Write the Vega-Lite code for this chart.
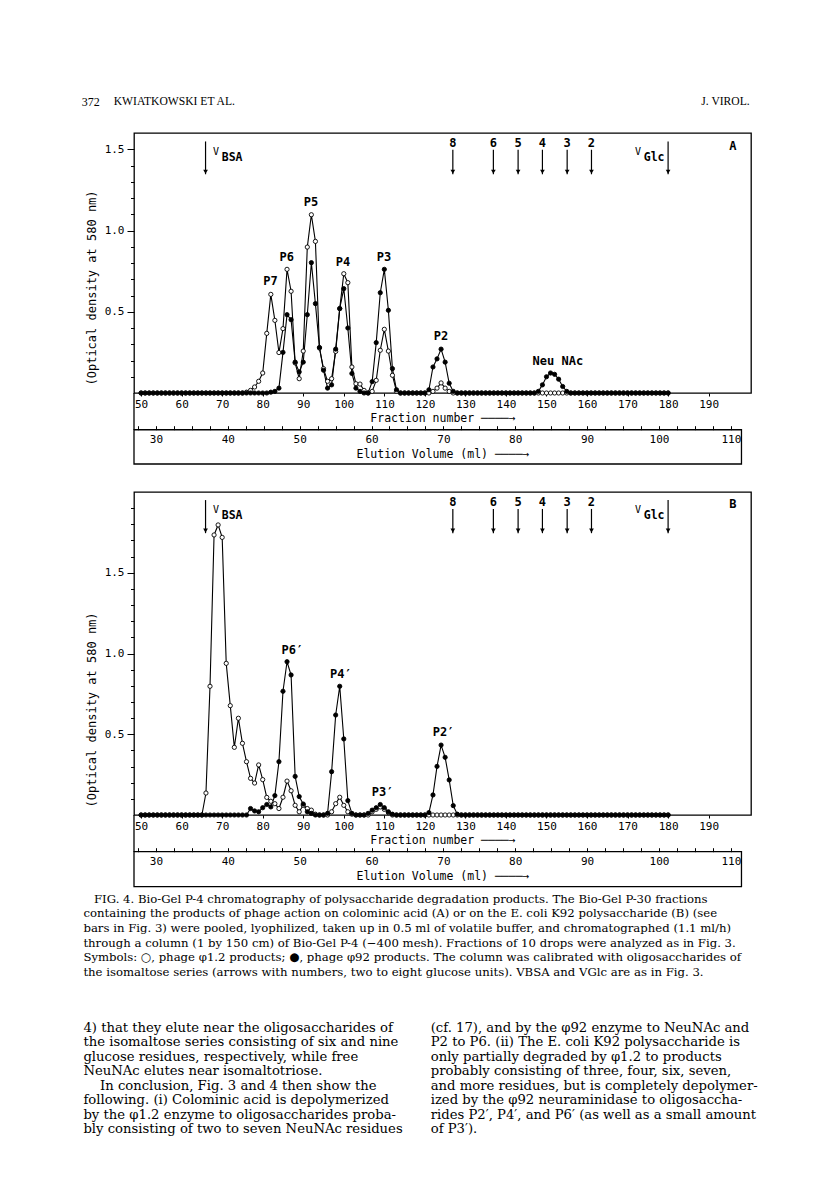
{
 "$schema": "https://vega.github.io/schema/vega-lite/v6.json",
 "background": "white",
 "padding": {"left": 81, "top": 0, "right": 0, "bottom": 0},
 "columns": 1,
 "align": "each",
 "spacing": 0,
 "config": {
  "view": {"stroke": null},
  "font": "DejaVu Sans Mono",
  "text": {"font": "DejaVu Sans Mono", "color": "black"},
  "axis": {"grid": false, "labelFont": "DejaVu Sans Mono", "titleFont": "DejaVu Sans Mono", "labelFontSize": 11, "titleFontSize": 11.5, "titleFontWeight": "normal", "labelColor": "black", "titleColor": "black", "tickColor": "black", "domainColor": "black", "tickWidth": 1, "labelOverlap": false, "labelBound": false}
 },
 "datasets": {
  "panelA": [
   {"fraction":50,"phi1_2":0,"phi92":0},{"fraction":51,"phi1_2":0,"phi92":0},{"fraction":52,"phi1_2":0,"phi92":0},{"fraction":53,"phi1_2":0,"phi92":0},{"fraction":54,"phi1_2":0,"phi92":0},{"fraction":55,"phi1_2":0,"phi92":0},{"fraction":56,"phi1_2":0,"phi92":0},{"fraction":57,"phi1_2":0,"phi92":0},{"fraction":58,"phi1_2":0,"phi92":0},{"fraction":59,"phi1_2":0,"phi92":0},
   {"fraction":60,"phi1_2":0,"phi92":0},{"fraction":61,"phi1_2":0,"phi92":0},{"fraction":62,"phi1_2":0,"phi92":0},{"fraction":63,"phi1_2":0,"phi92":0},{"fraction":64,"phi1_2":0,"phi92":0},{"fraction":65,"phi1_2":0,"phi92":0},{"fraction":66,"phi1_2":0,"phi92":0},{"fraction":67,"phi1_2":0,"phi92":0},{"fraction":68,"phi1_2":0,"phi92":0},{"fraction":69,"phi1_2":0,"phi92":0},
   {"fraction":70,"phi1_2":0,"phi92":0},{"fraction":71,"phi1_2":0,"phi92":0},{"fraction":72,"phi1_2":0,"phi92":0},{"fraction":73,"phi1_2":0,"phi92":0},{"fraction":74,"phi1_2":0,"phi92":0},{"fraction":75,"phi1_2":0,"phi92":0},{"fraction":76,"phi1_2":0.005,"phi92":0},{"fraction":77,"phi1_2":0.016,"phi92":0},{"fraction":78,"phi1_2":0.037,"phi92":0},{"fraction":79,"phi1_2":0.072,"phi92":0},
   {"fraction":80,"phi1_2":0.123,"phi92":0},{"fraction":81,"phi1_2":0.367,"phi92":0},{"fraction":82,"phi1_2":0.607,"phi92":0.005},{"fraction":83,"phi1_2":0.447,"phi92":0.01},{"fraction":84,"phi1_2":0.249,"phi92":0.03},{"fraction":85,"phi1_2":0.396,"phi92":0.25},{"fraction":86,"phi1_2":0.761,"phi92":0.482},{"fraction":87,"phi1_2":0.626,"phi92":0.451},{"fraction":88,"phi1_2":0.185,"phi92":0.19},{"fraction":89,"phi1_2":0.088,"phi92":0.13},
   {"fraction":90,"phi1_2":0.258,"phi92":0.19},{"fraction":91,"phi1_2":0.898,"phi92":0.482},{"fraction":92,"phi1_2":1.097,"phi92":0.802},{"fraction":93,"phi1_2":0.933,"phi92":0.55},{"fraction":94,"phi1_2":0.277,"phi92":0.28},{"fraction":95,"phi1_2":0.15,"phi92":0.14},{"fraction":96,"phi1_2":0.072,"phi92":0.03},{"fraction":97,"phi1_2":0.088,"phi92":0.05},{"fraction":98,"phi1_2":0.256,"phi92":0.27},{"fraction":99,"phi1_2":0.519,"phi92":0.52},
   {"fraction":100,"phi1_2":0.734,"phi92":0.642},{"fraction":101,"phi1_2":0.679,"phi92":0.4},{"fraction":102,"phi1_2":0.16,"phi92":0.12},{"fraction":103,"phi1_2":0.057,"phi92":0.03},{"fraction":104,"phi1_2":0.055,"phi92":0.01},{"fraction":105,"phi1_2":0.016,"phi92":0},{"fraction":106,"phi1_2":0,"phi92":0},{"fraction":107,"phi1_2":0.01,"phi92":0.07},{"fraction":108,"phi1_2":0.078,"phi92":0.31},{"fraction":109,"phi1_2":0.263,"phi92":0.617},
   {"fraction":110,"phi1_2":0.392,"phi92":0.761},{"fraction":111,"phi1_2":0.258,"phi92":0.509},{"fraction":112,"phi1_2":0.109,"phi92":0.15},{"fraction":113,"phi1_2":0.01,"phi92":0.02},{"fraction":114,"phi1_2":0,"phi92":0},{"fraction":115,"phi1_2":0,"phi92":0},{"fraction":116,"phi1_2":0,"phi92":0},{"fraction":117,"phi1_2":0,"phi92":0},{"fraction":118,"phi1_2":0,"phi92":0},{"fraction":119,"phi1_2":0,"phi92":0},
   {"fraction":120,"phi1_2":0,"phi92":0},{"fraction":121,"phi1_2":0,"phi92":0.02},{"fraction":122,"phi1_2":0.01,"phi92":0.16},{"fraction":123,"phi1_2":0.03,"phi92":0.21},{"fraction":124,"phi1_2":0.062,"phi92":0.27},{"fraction":125,"phi1_2":0.03,"phi92":0.19},{"fraction":126,"phi1_2":0.01,"phi92":0.06},{"fraction":127,"phi1_2":0,"phi92":0.01},{"fraction":128,"phi1_2":0,"phi92":0},{"fraction":129,"phi1_2":0,"phi92":0},
   {"fraction":130,"phi1_2":0,"phi92":0},{"fraction":131,"phi1_2":0,"phi92":0},{"fraction":132,"phi1_2":0,"phi92":0},{"fraction":133,"phi1_2":0,"phi92":0},{"fraction":134,"phi1_2":0,"phi92":0},{"fraction":135,"phi1_2":0,"phi92":0},{"fraction":136,"phi1_2":0,"phi92":0},{"fraction":137,"phi1_2":0,"phi92":0},{"fraction":138,"phi1_2":0,"phi92":0},{"fraction":139,"phi1_2":0,"phi92":0},
   {"fraction":140,"phi1_2":0,"phi92":0},{"fraction":141,"phi1_2":0,"phi92":0},{"fraction":142,"phi1_2":0,"phi92":0},{"fraction":143,"phi1_2":0,"phi92":0},{"fraction":144,"phi1_2":0,"phi92":0},{"fraction":145,"phi1_2":0,"phi92":0},{"fraction":146,"phi1_2":0,"phi92":0},{"fraction":147,"phi1_2":0,"phi92":0},{"fraction":148,"phi1_2":0,"phi92":0.01},{"fraction":149,"phi1_2":0,"phi92":0.05},
   {"fraction":150,"phi1_2":0,"phi92":0.1},{"fraction":151,"phi1_2":0,"phi92":0.123},{"fraction":152,"phi1_2":0,"phi92":0.115},{"fraction":153,"phi1_2":0,"phi92":0.085},{"fraction":154,"phi1_2":0,"phi92":0.04},{"fraction":155,"phi1_2":0,"phi92":0.01},{"fraction":156,"phi1_2":0,"phi92":0},{"fraction":157,"phi1_2":0,"phi92":0},{"fraction":158,"phi1_2":0,"phi92":0},{"fraction":159,"phi1_2":0,"phi92":0},
   {"fraction":160,"phi1_2":0,"phi92":0},{"fraction":161,"phi1_2":0,"phi92":0},{"fraction":162,"phi1_2":0,"phi92":0},{"fraction":163,"phi1_2":0,"phi92":0},{"fraction":164,"phi1_2":0,"phi92":0},{"fraction":165,"phi1_2":0,"phi92":0},{"fraction":166,"phi1_2":0,"phi92":0},{"fraction":167,"phi1_2":0,"phi92":0},{"fraction":168,"phi1_2":0,"phi92":0},{"fraction":169,"phi1_2":0,"phi92":0},
   {"fraction":170,"phi1_2":0,"phi92":0},{"fraction":171,"phi1_2":0,"phi92":0},{"fraction":172,"phi1_2":0,"phi92":0},{"fraction":173,"phi1_2":0,"phi92":0},{"fraction":174,"phi1_2":0,"phi92":0},{"fraction":175,"phi1_2":0,"phi92":0},{"fraction":176,"phi1_2":0,"phi92":0},{"fraction":177,"phi1_2":0,"phi92":0},{"fraction":178,"phi1_2":0,"phi92":0},{"fraction":179,"phi1_2":0,"phi92":0},
   {"fraction":180,"phi1_2":0,"phi92":0}
  ],
  "panelB": [
   {"fraction":50,"phi1_2":0,"phi92":0},{"fraction":51,"phi1_2":0,"phi92":0},{"fraction":52,"phi1_2":0,"phi92":0},{"fraction":53,"phi1_2":0,"phi92":0},{"fraction":54,"phi1_2":0,"phi92":0},{"fraction":55,"phi1_2":0,"phi92":0},{"fraction":56,"phi1_2":0,"phi92":0},{"fraction":57,"phi1_2":0,"phi92":0},{"fraction":58,"phi1_2":0,"phi92":0},{"fraction":59,"phi1_2":0,"phi92":0},
   {"fraction":60,"phi1_2":0,"phi92":0},{"fraction":61,"phi1_2":0,"phi92":0},{"fraction":62,"phi1_2":0,"phi92":0},{"fraction":63,"phi1_2":0,"phi92":0},{"fraction":64,"phi1_2":0,"phi92":0},{"fraction":65,"phi1_2":0,"phi92":0},{"fraction":66,"phi1_2":0.136,"phi92":0},{"fraction":67,"phi1_2":0.797,"phi92":0},{"fraction":68,"phi1_2":1.734,"phi92":0},{"fraction":69,"phi1_2":1.796,"phi92":0},
   {"fraction":70,"phi1_2":1.719,"phi92":0},{"fraction":71,"phi1_2":0.939,"phi92":0},{"fraction":72,"phi1_2":0.677,"phi92":0},{"fraction":73,"phi1_2":0.419,"phi92":0},{"fraction":74,"phi1_2":0.599,"phi92":0},{"fraction":75,"phi1_2":0.444,"phi92":0},{"fraction":76,"phi1_2":0.33,"phi92":0},{"fraction":77,"phi1_2":0.227,"phi92":0.04},{"fraction":78,"phi1_2":0.198,"phi92":0.025},{"fraction":79,"phi1_2":0.31,"phi92":0.02},
   {"fraction":80,"phi1_2":0.219,"phi92":0.045},{"fraction":81,"phi1_2":0.109,"phi92":0.065},{"fraction":82,"phi1_2":0.085,"phi92":0.05},{"fraction":83,"phi1_2":0.07,"phi92":0.12},{"fraction":84,"phi1_2":0.04,"phi92":0.33},{"fraction":85,"phi1_2":0.11,"phi92":0.766},{"fraction":86,"phi1_2":0.21,"phi92":0.949},{"fraction":87,"phi1_2":0.15,"phi92":0.867},{"fraction":88,"phi1_2":0.06,"phi92":0.239},{"fraction":89,"phi1_2":0.02,"phi92":0.114},
   {"fraction":90,"phi1_2":0.06,"phi92":0.068},{"fraction":91,"phi1_2":0.04,"phi92":0.02},{"fraction":92,"phi1_2":0.03,"phi92":0.01},{"fraction":93,"phi1_2":0.005,"phi92":0},{"fraction":94,"phi1_2":0,"phi92":0},{"fraction":95,"phi1_2":0,"phi92":0},{"fraction":96,"phi1_2":0,"phi92":0.01},{"fraction":97,"phi1_2":0.02,"phi92":0.268},{"fraction":98,"phi1_2":0.07,"phi92":0.619},{"fraction":99,"phi1_2":0.11,"phi92":0.797},
   {"fraction":100,"phi1_2":0.06,"phi92":0.471},{"fraction":101,"phi1_2":0.02,"phi92":0.089},{"fraction":102,"phi1_2":0.005,"phi92":0.01},{"fraction":103,"phi1_2":0,"phi92":0},{"fraction":104,"phi1_2":0,"phi92":0},{"fraction":105,"phi1_2":0,"phi92":0},{"fraction":106,"phi1_2":0,"phi92":0.01},{"fraction":107,"phi1_2":0.02,"phi92":0.03},{"fraction":108,"phi1_2":0.035,"phi92":0.045},{"fraction":109,"phi1_2":0.05,"phi92":0.065},
   {"fraction":110,"phi1_2":0.035,"phi92":0.045},{"fraction":111,"phi1_2":0.015,"phi92":0.02},{"fraction":112,"phi1_2":0,"phi92":0.005},{"fraction":113,"phi1_2":0,"phi92":0},{"fraction":114,"phi1_2":0,"phi92":0},{"fraction":115,"phi1_2":0,"phi92":0},{"fraction":116,"phi1_2":0,"phi92":0},{"fraction":117,"phi1_2":0,"phi92":0},{"fraction":118,"phi1_2":0,"phi92":0},{"fraction":119,"phi1_2":0,"phi92":0},
   {"fraction":120,"phi1_2":0,"phi92":0},{"fraction":121,"phi1_2":0,"phi92":0.015},{"fraction":122,"phi1_2":0,"phi92":0.124},{"fraction":123,"phi1_2":0,"phi92":0.301},{"fraction":124,"phi1_2":0,"phi92":0.433},{"fraction":125,"phi1_2":0,"phi92":0.357},{"fraction":126,"phi1_2":0,"phi92":0.217},{"fraction":127,"phi1_2":0,"phi92":0.058},{"fraction":128,"phi1_2":0,"phi92":0.005},{"fraction":129,"phi1_2":0,"phi92":0},
   {"fraction":130,"phi1_2":0,"phi92":0},{"fraction":131,"phi1_2":0,"phi92":0},{"fraction":132,"phi1_2":0,"phi92":0},{"fraction":133,"phi1_2":0,"phi92":0},{"fraction":134,"phi1_2":0,"phi92":0},{"fraction":135,"phi1_2":0,"phi92":0},{"fraction":136,"phi1_2":0,"phi92":0},{"fraction":137,"phi1_2":0,"phi92":0},{"fraction":138,"phi1_2":0,"phi92":0},{"fraction":139,"phi1_2":0,"phi92":0},
   {"fraction":140,"phi1_2":0,"phi92":0},{"fraction":141,"phi1_2":0,"phi92":0},{"fraction":142,"phi1_2":0,"phi92":0},{"fraction":143,"phi1_2":0,"phi92":0},{"fraction":144,"phi1_2":0,"phi92":0},{"fraction":145,"phi1_2":0,"phi92":0},{"fraction":146,"phi1_2":0,"phi92":0},{"fraction":147,"phi1_2":0,"phi92":0},{"fraction":148,"phi1_2":0,"phi92":0},{"fraction":149,"phi1_2":0,"phi92":0},
   {"fraction":150,"phi1_2":0,"phi92":0},{"fraction":151,"phi1_2":0,"phi92":0},{"fraction":152,"phi1_2":0,"phi92":0},{"fraction":153,"phi1_2":0,"phi92":0},{"fraction":154,"phi1_2":0,"phi92":0},{"fraction":155,"phi1_2":0,"phi92":0},{"fraction":156,"phi1_2":0,"phi92":0},{"fraction":157,"phi1_2":0,"phi92":0},{"fraction":158,"phi1_2":0,"phi92":0},{"fraction":159,"phi1_2":0,"phi92":0},
   {"fraction":160,"phi1_2":0,"phi92":0},{"fraction":161,"phi1_2":0,"phi92":0},{"fraction":162,"phi1_2":0,"phi92":0},{"fraction":163,"phi1_2":0,"phi92":0},{"fraction":164,"phi1_2":0,"phi92":0},{"fraction":165,"phi1_2":0,"phi92":0},{"fraction":166,"phi1_2":0,"phi92":0},{"fraction":167,"phi1_2":0,"phi92":0},{"fraction":168,"phi1_2":0,"phi92":0},{"fraction":169,"phi1_2":0,"phi92":0},
   {"fraction":170,"phi1_2":0,"phi92":0},{"fraction":171,"phi1_2":0,"phi92":0},{"fraction":172,"phi1_2":0,"phi92":0},{"fraction":173,"phi1_2":0,"phi92":0},{"fraction":174,"phi1_2":0,"phi92":0},{"fraction":175,"phi1_2":0,"phi92":0},{"fraction":176,"phi1_2":0,"phi92":0},{"fraction":177,"phi1_2":0,"phi92":0},{"fraction":178,"phi1_2":0,"phi92":0},{"fraction":179,"phi1_2":0,"phi92":0},
   {"fraction":180,"phi1_2":0,"phi92":0}
  ],
  "calibration": [
   {"fraction":126.9,"units":"8"},{"fraction":136.9,"units":"6"},{"fraction":143.0,"units":"5"},{"fraction":149.0,"units":"4"},{"fraction":155.1,"units":"3"},{"fraction":161.1,"units":"2"}
  ],
  "voidMarkers": [{"fraction":65.9,"marker":"BSA"},{"fraction":180,"marker":"Glc"}],
  "voidLabels": [
   {"fraction":68.5,"text":"V","role":"symbol"},{"fraction":69.9,"text":"BSA","role":"subscript"},
   {"fraction":172.6,"text":"V","role":"symbol"},{"fraction":174.0,"text":"Glc","role":"subscript"}
  ],
  "peaksA": [
   {"fraction":81.9,"od":0.687,"label":"P7"},{"fraction":85.9,"od":0.837,"label":"P6"},{"fraction":91.9,"od":1.175,"label":"P5"},{"fraction":99.8,"od":0.806,"label":"P4"},{"fraction":109.9,"od":0.837,"label":"P3"},{"fraction":124.0,"od":0.351,"label":"P2"},{"fraction":152.8,"od":0.195,"label":"Neu NAc"}
  ],
  "peaksB": [
   {"fraction":87.3,"od":1.02,"label":"P6′"},{"fraction":99.3,"od":0.873,"label":"P4′"},{"fraction":109.6,"od":0.144,"label":"P3′"},{"fraction":124.6,"od":0.512,"label":"P2′"}
  ]
 },
 "concat": [
  {
   "width": 617, "height": 131.5, "view": {"stroke": null},
   "data": {"values": [{"text":"372","slot":"page"},{"text":"KWIATKOWSKI ET AL.","slot":"authors"},{"text":"J. VIROL.","slot":"journal"}]},
   "layer": [
    {"transform": [{"filter": "datum.slot == 'page'"}],
     "mark": {"type": "text", "align": "left", "baseline": "middle", "font": "Liberation Serif", "fontSize": 12},
     "encoding": {"text": {"field": "text"},
      "x": {"datum": -52.3, "type": "quantitative", "scale": {"domain": [0, 617]}, "axis": null},
      "y": {"datum": 0.2243, "type": "quantitative", "scale": {"domain": [0, 1]}, "axis": null}}},
    {"transform": [{"filter": "datum.slot == 'authors'"}],
     "mark": {"type": "text", "align": "left", "baseline": "middle", "font": "Liberation Serif", "fontSize": 11.6},
     "encoding": {"text": {"field": "text"},
      "x": {"datum": -20.3, "type": "quantitative", "scale": {"domain": [0, 617]}, "axis": null},
      "y": {"datum": 0.2243, "type": "quantitative", "scale": {"domain": [0, 1]}, "axis": null}}},
    {"transform": [{"filter": "datum.slot == 'journal'"}],
     "mark": {"type": "text", "align": "right", "baseline": "middle", "font": "Liberation Serif", "fontSize": 11.6},
     "encoding": {"text": {"field": "text"},
      "x": {"datum": 615.7, "type": "quantitative", "scale": {"domain": [0, 617]}, "axis": null},
      "y": {"datum": 0.2243, "type": "quantitative", "scale": {"domain": [0, 1]}, "axis": null}}}
   ]
  },
  {
   "width": 617, "height": 260,
   "view": {"stroke": "black", "strokeWidth": 1.3},
   "resolve": {"scale": {"x": "independent"}, "axis": {"x": "independent", "y": "independent"}},
   "layer": [
    {"data": {"name": "panelA"},
     "transform": [{"fold": ["phi1_2","phi92"], "as": ["series","od"]}],
     "mark": {"type": "line", "color": "black", "strokeWidth": 1.1},
     "encoding": {
      "x": {"field": "fraction", "type": "quantitative", "scale": {"domain": [48.25, 200.45]},
       "axis": {"orient": "bottom", "title": "Fraction number    ────→", "values": [50,60,70,80,90,100,110,120,130,140,150,160,170,180,190], "domain": false, "tickSize": 3, "labelPadding": 2, "titlePadding": 3, "labelFlush": false}},
      "y": {"field": "od", "type": "quantitative", "scale": {"domain": [0, 1.6]},
       "axis": {"orient": "left", "title": "(Optical density at 580 nm)", "values": [0.5, 1, 1.5], "format": ".1f", "tickSize": 7, "domain": false, "labelPadding": 3, "titleAnchor": "start", "titleX": -36, "titleY": 252, "titleBaseline": "bottom", "titleFontSize": 12}},
      "detail": {"field": "series"}}},
    {"data": {"name": "panelA"},
     "transform": [{"fold": ["phi1_2","phi92"], "as": ["series","od"]}],
     "mark": {"type": "point", "shape": "circle", "filled": true, "size": 18, "stroke": "black", "strokeWidth": 0.9, "opacity": 1},
     "encoding": {
      "x": {"field": "fraction", "type": "quantitative", "scale": {"domain": [48.25, 200.45]}, "axis": null},
      "y": {"field": "od", "type": "quantitative",
       "axis": {"orient": "left", "title": null, "values": [0.1,0.2,0.3,0.4,0.6,0.7,0.8,0.9,1.1,1.2,1.3,1.4], "labels": false, "tickSize": 3.5, "domain": false}},
      "fill": {"field": "series", "type": "nominal", "scale": {"domain": ["phi1_2","phi92"], "range": ["white","black"]}, "legend": null}}},
    {"data": {"name": "calibration"}, "mark": {"type": "rule", "color": "black", "strokeWidth": 1.2},
     "encoding": {"x": {"field": "fraction", "type": "quantitative", "scale": {"domain": [48.25, 200.45]}, "axis": null}, "y": {"datum": 1.497, "axis": null}, "y2": {"datum": 1.346}}},
    {"data": {"name": "calibration"}, "mark": {"type": "point", "shape": "triangle-down", "filled": true, "size": 22, "color": "black", "opacity": 1},
     "encoding": {"x": {"field": "fraction", "type": "quantitative", "scale": {"domain": [48.25, 200.45]}, "axis": null}, "y": {"datum": 1.362, "axis": null}}},
    {"data": {"name": "calibration"}, "mark": {"type": "text", "baseline": "middle", "fontSize": 12, "fontWeight": "bold"},
     "encoding": {"x": {"field": "fraction", "type": "quantitative", "scale": {"domain": [48.25, 200.45]}, "axis": null}, "y": {"datum": 1.537, "axis": null}, "text": {"field": "units"}}},
    {"data": {"name": "voidMarkers"}, "mark": {"type": "rule", "color": "black", "strokeWidth": 1.2},
     "encoding": {"x": {"field": "fraction", "type": "quantitative", "scale": {"domain": [48.25, 200.45]}, "axis": null}, "y": {"datum": 1.548, "axis": null}, "y2": {"datum": 1.346}}},
    {"data": {"name": "voidMarkers"}, "mark": {"type": "point", "shape": "triangle-down", "filled": true, "size": 22, "color": "black", "opacity": 1},
     "encoding": {"x": {"field": "fraction", "type": "quantitative", "scale": {"domain": [48.25, 200.45]}, "axis": null}, "y": {"datum": 1.362, "axis": null}}},
    {"data": {"name": "voidLabels"}, "transform": [{"filter": "datum.role == 'symbol'"}],
     "mark": {"type": "text", "baseline": "middle", "fontSize": 10},
     "encoding": {"x": {"field": "fraction", "type": "quantitative", "scale": {"domain": [48.25, 200.45]}, "axis": null}, "y": {"datum": 1.482, "axis": null}, "text": {"field": "text"}}},
    {"data": {"name": "voidLabels"}, "transform": [{"filter": "datum.role == 'subscript'"}],
     "mark": {"type": "text", "align": "left", "baseline": "middle", "fontSize": 11.5, "fontWeight": "bold"},
     "encoding": {"x": {"field": "fraction", "type": "quantitative", "scale": {"domain": [48.25, 200.45]}, "axis": null}, "y": {"datum": 1.449, "axis": null}, "text": {"field": "text"}}},
    {"data": {"name": "peaksA"}, "mark": {"type": "text", "baseline": "middle", "fontSize": 12, "fontWeight": "bold"},
     "encoding": {"x": {"field": "fraction", "type": "quantitative", "scale": {"domain": [48.25, 200.45]}, "axis": null}, "y": {"field": "od", "type": "quantitative", "axis": null}, "text": {"field": "label"}}},
    {"data": {"values": [{"panel": "A"}]}, "mark": {"type": "text", "baseline": "middle", "fontSize": 12, "fontWeight": "bold"},
     "encoding": {"x": {"datum": 196, "type": "quantitative", "scale": {"domain": [48.25, 200.45]}, "axis": null}, "y": {"datum": 1.517, "axis": null}, "text": {"field": "panel"}}},
    {"data": {"values": [{"edge": "left"}]}, "mark": {"type": "rule", "color": "black", "strokeWidth": 1.3},
     "encoding": {"x": {"datum": 48.25, "type": "quantitative", "scale": {"domain": [48.25, 200.45]}, "axis": null}, "y": {"datum": 0, "axis": null}, "y2": {"datum": -0.226}}},
    {"data": {"values": [{"scale": "elution volume"}]},
     "mark": {"type": "rect", "fillOpacity": 0, "stroke": "black", "strokeWidth": 1.3},
     "encoding": {
      "x": {"datum": 26.948, "type": "quantitative", "scale": {"domain": [26.948, 112.806]},
       "axis": {"orient": "bottom", "offset": 36.7, "title": "Elution Volume (ml) ────→", "values": [27.5,30,32.5,35,37.5,40,42.5,45,47.5,50,52.5,55,57.5,60,62.5,65,67.5,70,72.5,75,77.5,80,82.5,85,87.5,90,92.5,95,97.5,100,102.5,105,107.5,110], "labelExpr": "datum.value % 10 === 0 ? datum.label : ''", "domain": false, "tickSize": -4, "labelPadding": 8, "titlePadding": 3.5, "labelFlush": false}},
      "x2": {"datum": 111.48},
      "y": {"datum": -0.226, "axis": null}, "y2": {"datum": -0.437}}}
   ]
  },
  {"width": 617, "height": 24.2, "view": {"stroke": null}, "data": {"values": []}, "mark": "text", "encoding": {}},
  {
   "width": 617, "height": 323,
   "view": {"stroke": "black", "strokeWidth": 1.3},
   "resolve": {"scale": {"x": "independent"}, "axis": {"x": "independent", "y": "independent"}},
   "layer": [
    {"data": {"name": "panelB"},
     "transform": [{"fold": ["phi1_2","phi92"], "as": ["series","od"]}],
     "mark": {"type": "line", "color": "black", "strokeWidth": 1.1},
     "encoding": {
      "x": {"field": "fraction", "type": "quantitative", "scale": {"domain": [48.25, 200.45]},
       "axis": {"orient": "bottom", "title": "Fraction number    ────→", "values": [50,60,70,80,90,100,110,120,130,140,150,160,170,180,190], "domain": false, "tickSize": 3, "labelPadding": 2, "titlePadding": 3, "labelFlush": false}},
      "y": {"field": "od", "type": "quantitative", "scale": {"domain": [0, 2.0]},
       "axis": {"orient": "left", "title": "(Optical density at 580 nm)", "values": [0.5, 1, 1.5], "format": ".1f", "tickSize": 7, "domain": false, "labelPadding": 3, "titleAnchor": "start", "titleX": -36, "titleY": 315, "titleBaseline": "bottom", "titleFontSize": 12}},
      "detail": {"field": "series"}}},
    {"data": {"name": "panelB"},
     "transform": [{"fold": ["phi1_2","phi92"], "as": ["series","od"]}],
     "mark": {"type": "point", "shape": "circle", "filled": true, "size": 18, "stroke": "black", "strokeWidth": 0.9, "opacity": 1},
     "encoding": {
      "x": {"field": "fraction", "type": "quantitative", "scale": {"domain": [48.25, 200.45]}, "axis": null},
      "y": {"field": "od", "type": "quantitative",
       "axis": {"orient": "left", "title": null, "values": [0.1,0.2,0.3,0.4,0.6,0.7,0.8,0.9,1.1,1.2,1.3,1.4,1.6,1.7,1.8,1.9], "labels": false, "tickSize": 3.5, "domain": false}},
      "fill": {"field": "series", "type": "nominal", "scale": {"domain": ["phi1_2","phi92"], "range": ["white","black"]}, "legend": null}}},
    {"data": {"name": "calibration"}, "mark": {"type": "rule", "color": "black", "strokeWidth": 1.2},
     "encoding": {"x": {"field": "fraction", "type": "quantitative", "scale": {"domain": [48.25, 200.45]}, "axis": null}, "y": {"datum": 1.895, "axis": null}, "y2": {"datum": 1.745}}},
    {"data": {"name": "calibration"}, "mark": {"type": "point", "shape": "triangle-down", "filled": true, "size": 22, "color": "black", "opacity": 1},
     "encoding": {"x": {"field": "fraction", "type": "quantitative", "scale": {"domain": [48.25, 200.45]}, "axis": null}, "y": {"datum": 1.761, "axis": null}}},
    {"data": {"name": "calibration"}, "mark": {"type": "text", "baseline": "middle", "fontSize": 12, "fontWeight": "bold"},
     "encoding": {"x": {"field": "fraction", "type": "quantitative", "scale": {"domain": [48.25, 200.45]}, "axis": null}, "y": {"datum": 1.937, "axis": null}, "text": {"field": "units"}}},
    {"data": {"name": "voidMarkers"}, "mark": {"type": "rule", "color": "black", "strokeWidth": 1.2},
     "encoding": {"x": {"field": "fraction", "type": "quantitative", "scale": {"domain": [48.25, 200.45]}, "axis": null}, "y": {"datum": 1.95, "axis": null}, "y2": {"datum": 1.745}}},
    {"data": {"name": "voidMarkers"}, "mark": {"type": "point", "shape": "triangle-down", "filled": true, "size": 22, "color": "black", "opacity": 1},
     "encoding": {"x": {"field": "fraction", "type": "quantitative", "scale": {"domain": [48.25, 200.45]}, "axis": null}, "y": {"datum": 1.761, "axis": null}}},
    {"data": {"name": "voidLabels"}, "transform": [{"filter": "datum.role == 'symbol'"}],
     "mark": {"type": "text", "baseline": "middle", "fontSize": 10},
     "encoding": {"x": {"field": "fraction", "type": "quantitative", "scale": {"domain": [48.25, 200.45]}, "axis": null}, "y": {"datum": 1.888, "axis": null}, "text": {"field": "text"}}},
    {"data": {"name": "voidLabels"}, "transform": [{"filter": "datum.role == 'subscript'"}],
     "mark": {"type": "text", "align": "left", "baseline": "middle", "fontSize": 11.5, "fontWeight": "bold"},
     "encoding": {"x": {"field": "fraction", "type": "quantitative", "scale": {"domain": [48.25, 200.45]}, "axis": null}, "y": {"datum": 1.853, "axis": null}, "text": {"field": "text"}}},
    {"data": {"name": "peaksB"}, "mark": {"type": "text", "baseline": "middle", "fontSize": 12, "fontWeight": "bold"},
     "encoding": {"x": {"field": "fraction", "type": "quantitative", "scale": {"domain": [48.25, 200.45]}, "axis": null}, "y": {"field": "od", "type": "quantitative", "axis": null}, "text": {"field": "label"}}},
    {"data": {"values": [{"panel": "B"}]}, "mark": {"type": "text", "baseline": "middle", "fontSize": 12, "fontWeight": "bold"},
     "encoding": {"x": {"datum": 196, "type": "quantitative", "scale": {"domain": [48.25, 200.45]}, "axis": null}, "y": {"datum": 1.924, "axis": null}, "text": {"field": "panel"}}},
    {"data": {"values": [{"edge": "left"}]}, "mark": {"type": "rule", "color": "black", "strokeWidth": 1.3},
     "encoding": {"x": {"datum": 48.25, "type": "quantitative", "scale": {"domain": [48.25, 200.45]}, "axis": null}, "y": {"datum": 0, "axis": null}, "y2": {"datum": -0.227}}},
    {"data": {"values": [{"scale": "elution volume"}]},
     "mark": {"type": "rect", "fillOpacity": 0, "stroke": "black", "strokeWidth": 1.3},
     "encoding": {
      "x": {"datum": 26.948, "type": "quantitative", "scale": {"domain": [26.948, 112.806]},
       "axis": {"orient": "bottom", "offset": 36.7, "title": "Elution Volume (ml) ────→", "values": [27.5,30,32.5,35,37.5,40,42.5,45,47.5,50,52.5,55,57.5,60,62.5,65,67.5,70,72.5,75,77.5,80,82.5,85,87.5,90,92.5,95,97.5,100,102.5,105,107.5,110], "labelExpr": "datum.value % 10 === 0 ? datum.label : ''", "domain": false, "tickSize": -4, "labelPadding": 8, "titlePadding": 3.5, "labelFlush": false}},
      "x2": {"datum": 111.48},
      "y": {"datum": -0.227, "axis": null}, "y2": {"datum": -0.444}}}
   ]
  },
  {
   "width": 617, "height": 95, "view": {"stroke": null},
   "data": {"values": [
    {"line": 0, "paragraphStart": true, "text": "FIG. 4. Bio-Gel P-4 chromatography of polysaccharide degradation products. The Bio-Gel P-30 fractions"},
    {"line": 1, "paragraphStart": false, "text": "containing the products of phage action on colominic acid (A) or on the E. coli K92 polysaccharide (B) (see"},
    {"line": 2, "paragraphStart": false, "text": "bars in Fig. 3) were pooled, lyophilized, taken up in 0.5 ml of volatile buffer, and chromatographed (1.1 ml/h)"},
    {"line": 3, "paragraphStart": false, "text": "through a column (1 by 150 cm) of Bio-Gel P-4 (−400 mesh). Fractions of 10 drops were analyzed as in Fig. 3."},
    {"line": 4, "paragraphStart": false, "text": "Symbols: ○, phage φ1.2 products; ●, phage φ92 products. The column was calibrated with oligosaccharides of"},
    {"line": 5, "paragraphStart": false, "text": "the isomaltose series (arrows with numbers, two to eight glucose units). VBSA and VGlc are as in Fig. 3."}
   ]},
   "layer": [
    {"transform": [{"filter": "!datum.paragraphStart"}],
     "mark": {"type": "text", "align": "left", "baseline": "middle", "font": "DejaVu Serif", "fontSize": 11.7},
     "encoding": {
      "text": {"field": "text"},
      "x": {"datum": -50.6, "type": "quantitative", "scale": {"domain": [0, 617]}, "axis": null},
      "y": {"field": "line", "type": "quantitative", "scale": {"domain": [-0.655, 5.825], "reverse": true}, "axis": null}}},
    {"transform": [{"filter": "datum.paragraphStart"}],
     "mark": {"type": "text", "align": "left", "baseline": "middle", "font": "DejaVu Serif", "fontSize": 11.7, "dx": 10.6},
     "encoding": {
      "text": {"field": "text"},
      "x": {"datum": -50.6, "type": "quantitative", "scale": {"domain": [0, 617]}, "axis": null},
      "y": {"field": "line", "type": "quantitative", "scale": {"domain": [-0.655, 5.825], "reverse": true}, "axis": null}}}
   ]
  },
  {
   "width": 617, "height": 160, "view": {"stroke": null},
   "data": {"values": [
    {"column": "left", "line": 0, "paragraphStart": false, "text": "4) that they elute near the oligosaccharides of"},
    {"column": "left", "line": 1, "paragraphStart": false, "text": "the isomaltose series consisting of six and nine"},
    {"column": "left", "line": 2, "paragraphStart": false, "text": "glucose residues, respectively, while free"},
    {"column": "left", "line": 3, "paragraphStart": false, "text": "NeuNAc elutes near isomaltotriose."},
    {"column": "left", "line": 4, "paragraphStart": true, "text": "In conclusion, Fig. 3 and 4 then show the"},
    {"column": "left", "line": 5, "paragraphStart": false, "text": "following. (i) Colominic acid is depolymerized"},
    {"column": "left", "line": 6, "paragraphStart": false, "text": "by the φ1.2 enzyme to oligosaccharides proba-"},
    {"column": "left", "line": 7, "paragraphStart": false, "text": "bly consisting of two to seven NeuNAc residues"},
    {"column": "right", "line": 0, "paragraphStart": false, "text": "(cf. 17), and by the φ92 enzyme to NeuNAc and"},
    {"column": "right", "line": 1, "paragraphStart": false, "text": "P2 to P6. (ii) The E. coli K92 polysaccharide is"},
    {"column": "right", "line": 2, "paragraphStart": false, "text": "only partially degraded by φ1.2 to products"},
    {"column": "right", "line": 3, "paragraphStart": false, "text": "probably consisting of three, four, six, seven,"},
    {"column": "right", "line": 4, "paragraphStart": false, "text": "and more residues, but is completely depolymer-"},
    {"column": "right", "line": 5, "paragraphStart": false, "text": "ized by the φ92 neuraminidase to oligosaccha-"},
    {"column": "right", "line": 6, "paragraphStart": false, "text": "rides P2′, P4′, and P6′ (as well as a small amount"},
    {"column": "right", "line": 7, "paragraphStart": false, "text": "of P3′)."}
   ]},
   "layer": [
    {"transform": [{"filter": "!datum.paragraphStart"}],
     "mark": {"type": "text", "align": "left", "baseline": "middle", "font": "DejaVu Serif", "fontSize": 13.2},
     "encoding": {
      "text": {"field": "text"},
      "x": {"field": "column", "type": "nominal", "scale": {"type": "point", "domain": ["left","right"], "range": [-50.6, 296.7], "padding": 0}, "axis": null},
      "y": {"field": "line", "type": "quantitative", "scale": {"domain": [-2.271, 7.141], "reverse": true}, "axis": null}}},
    {"transform": [{"filter": "datum.paragraphStart"}],
     "mark": {"type": "text", "align": "left", "baseline": "middle", "font": "DejaVu Serif", "fontSize": 13.2, "dx": 16.6},
     "encoding": {
      "text": {"field": "text"},
      "x": {"field": "column", "type": "nominal", "axis": null},
      "y": {"field": "line", "type": "quantitative", "axis": null}}}
   ]
  }
 ]
}
